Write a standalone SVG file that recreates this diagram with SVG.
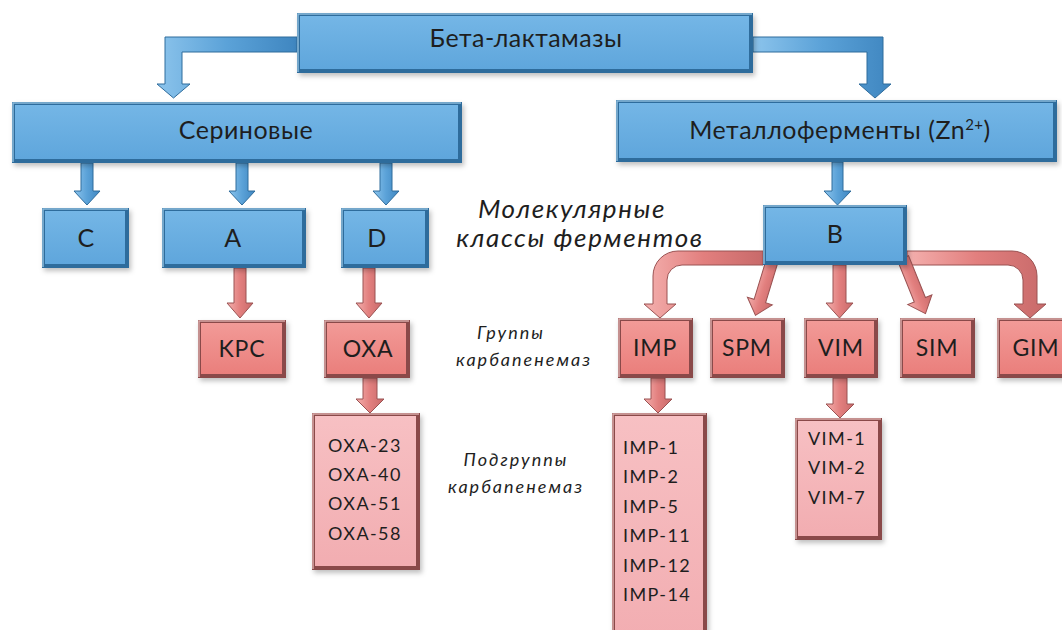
<svg xmlns="http://www.w3.org/2000/svg" width="1062" height="630" viewBox="0 0 1062 630">
<defs>
<linearGradient id="gBlue" x1="0" y1="0" x2="0" y2="1">
<stop offset="0" stop-color="#74b6e6"/><stop offset="1" stop-color="#5fa6dc"/>
</linearGradient>
<linearGradient id="gRed" x1="0" y1="0" x2="0" y2="1">
<stop offset="0" stop-color="#f29a97"/><stop offset="1" stop-color="#ea7f7c"/>
</linearGradient>
<linearGradient id="gPink" x1="0" y1="0" x2="0" y2="1">
<stop offset="0" stop-color="#f7c0c3"/><stop offset="1" stop-color="#f2adb1"/>
</linearGradient>
<linearGradient id="gArB" x1="0" y1="0" x2="1" y2="0">
<stop offset="0" stop-color="#8cc4ec"/><stop offset="0.5" stop-color="#5ba2d8"/><stop offset="1" stop-color="#3f86c0"/>
</linearGradient>
<linearGradient id="gArR" x1="0" y1="0" x2="1" y2="0">
<stop offset="0" stop-color="#f4b0ae"/><stop offset="0.5" stop-color="#e27f7e"/><stop offset="1" stop-color="#c86a6a"/>
</linearGradient>
<filter id="sh" x="-10%" y="-10%" width="130%" height="140%">
<feDropShadow dx="2" dy="3" stdDeviation="2.5" flood-color="#000" flood-opacity="0.25"/>
</filter>
</defs>
<style>
.bo{fill:#2f6c9c;filter:url(#sh)}
.bi{fill:url(#gBlue)}
.ro{fill:#8a4848;filter:url(#sh)}
.ri{fill:url(#gRed)}
.pi{fill:url(#gPink)}
.hl{fill:none;stroke-width:1.5;stroke-opacity:0.7}
.hb{stroke:#b5dbf5}
.hr{stroke:#fbd3d2}
.ab{fill:url(#gArB);stroke:#2f6c9c;stroke-width:1}
.ar{fill:url(#gArR);stroke:#9a5252;stroke-width:1}
text{font-family:Lato,"Open Sans","Liberation Sans",sans-serif;fill:#1e1e1e}
.t1{font-size:25px;letter-spacing:0.5px;text-anchor:middle}
.t2{font-size:23px;letter-spacing:0.8px;text-anchor:middle}
.t3{font-size:18px;letter-spacing:1.4px}
.it{font-style:italic;text-anchor:middle}
.ib{font-size:26px;letter-spacing:1.6px}
.is{font-size:18px;letter-spacing:2px}
</style>
<rect width="1062" height="630" fill="#ffffff"/>

<g id="connectors">
<path class="ab" d="M297,37 H165 V84 H157 L173.5,98 L190,84 H182 V52 H297 Z"/>
<path class="ab" d="M753,37 H883 V84 H891 L875,98 L859,84 H867 V52 H753 Z"/>
<path class="ab" d="M832,162 V191 H824 L837.5,205 L851,191 H843 V162 Z"/>
<path class="ab" d="M81,163 V191 H74 L87,205 L100,191 H93 V163 Z"/>
<path class="ab" d="M236,163 V191 H229 L242,205 L255,191 H248 V163 Z"/>
<path class="ab" d="M380,163 V191 H373 L386,205 L399,191 H392 V163 Z"/>
<path class="ar" d="M234,268 V303 H227 L240,318 L253,303 H246 V268 Z"/>
<path class="ar" d="M363,268 V303 H356 L369,318 L382,303 H375 V268 Z"/>
<path class="ar" d="M363,378 V399 H356 L370,413 L384,399 H377 V378 Z"/>
<path class="ar" d="M651,378 V399 H644 L658,413 L672,399 H665 V378 Z"/>
<path class="ar" d="M833,378 V404 H826 L840,418 L854,404 H847 V378 Z"/>
<path class="ar" d="M763,251 H678 A25,25 0 0 0 653,276 V304 H644 L660,318 L676,304 H667 V280 A15,15 0 0 1 682,265 H763 Z"/>
<path class="ar" d="M907,251 H1012 A25,25 0 0 1 1037,276 V304 H1046 L1030,318 L1014,304 H1023 V280 A15,15 0 0 0 1008,265 H907 Z"/>
<path class="ar" transform="rotate(17 773 258)" d="M767,258 V303 H760 L773,318 L786,303 H779 V258 Z"/>
<path class="ar" transform="rotate(-22 903 258)" d="M897,258 V303 H890 L903,318 L916,303 H909 V258 Z"/>
<path class="ar" d="M833,265 V303 H826 L839.5,318 L853,303 H846 V265 Z"/>
</g>

<g id="n-beta">
<rect class="bo" x="297" y="13" width="456" height="60"/>
<rect class="bi" x="300" y="16" width="449" height="53"/>
<polyline class="hl hb" points="298,72 298,14 752,14"/>
<text class="t1" x="526" y="47">Бета-лактамазы</text>
</g>
<g id="n-serine">
<rect class="bo" x="12" y="102" width="450" height="61"/>
<rect class="bi" x="15" y="105" width="443" height="54"/>
<polyline class="hl hb" points="13,162 13,103 461,103"/>
<text class="t1" x="246" y="139">Сериновые</text>
</g>
<g id="n-metal">
<rect class="bo" x="616" y="100" width="441" height="62"/>
<rect class="bi" x="619" y="103" width="434" height="55"/>
<polyline class="hl hb" points="617,161 617,101 1056,101"/>
<text class="t1" x="840" y="139">Металлоферменты (Zn<tspan font-size="15" dy="-9">2+</tspan><tspan dy="9">)</tspan></text>
</g>
<g id="n-c">
<rect class="bo" x="42" y="208" width="87" height="60"/>
<rect class="bi" x="45" y="211" width="80" height="53"/>
<polyline class="hl hb" points="43,267 43,209 128,209"/>
<text class="t1" x="86" y="247">C</text>
</g>
<g id="n-a">
<rect class="bo" x="162" y="208" width="144" height="60"/>
<rect class="bi" x="165" y="211" width="137" height="53"/>
<polyline class="hl hb" points="163,267 163,209 305,209"/>
<text class="t1" x="233" y="247">A</text>
</g>
<g id="n-d">
<rect class="bo" x="341" y="208" width="88" height="60"/>
<rect class="bi" x="344" y="211" width="81" height="53"/>
<polyline class="hl hb" points="342,267 342,209 428,209"/>
<text class="t1" x="377" y="247">D</text>
</g>
<g id="n-b">
<rect class="bo" x="763" y="205" width="144" height="60"/>
<rect class="bi" x="766" y="208" width="137" height="53"/>
<polyline class="hl hb" points="764,264 764,206 906,206"/>
<text class="t1" x="835" y="243">B</text>
</g>

<g id="lbl-classes">
<text class="it ib" x="572" y="218">Молекулярные</text>
<text class="it ib" x="580" y="247">классы ферментов</text>
</g>
<g id="lbl-groups">
<text class="it is" x="511" y="339">Группы</text>
<text class="it is" x="524" y="366">карбапенемаз</text>
</g>
<g id="lbl-subgroups">
<text class="it is" x="516" y="466">Подгруппы</text>
<text class="it is" x="516" y="493">карбапенемаз</text>
</g>

<g id="n-kpc">
<rect class="ro" x="198" y="320" width="88" height="58"/>
<rect class="ri" x="201" y="323" width="81" height="51"/>
<polyline class="hl hr" points="199,377 199,321 285,321"/>
<text class="t2" x="242" y="357">KPC</text>
</g>
<g id="n-oxa">
<rect class="ro" x="324" y="320" width="86" height="58"/>
<rect class="ri" x="327" y="323" width="79" height="51"/>
<polyline class="hl hr" points="325,377 325,321 409,321"/>
<text class="t2" x="368" y="357">OXA</text>
</g>
<g id="n-imp">
<rect class="ro" x="618" y="318" width="75" height="60"/>
<rect class="ri" x="621" y="321" width="68" height="53"/>
<polyline class="hl hr" points="619,377 619,319 692,319"/>
<text class="t2" x="655" y="356">IMP</text>
</g>
<g id="n-spm">
<rect class="ro" x="710" y="318" width="75" height="60"/>
<rect class="ri" x="713" y="321" width="68" height="53"/>
<polyline class="hl hr" points="711,377 711,319 784,319"/>
<text class="t2" x="747" y="356">SPM</text>
</g>
<g id="n-vim">
<rect class="ro" x="804" y="318" width="74" height="60"/>
<rect class="ri" x="807" y="321" width="67" height="53"/>
<polyline class="hl hr" points="805,377 805,319 877,319"/>
<text class="t2" x="841" y="356">VIM</text>
</g>
<g id="n-sim">
<rect class="ro" x="900" y="318" width="75" height="60"/>
<rect class="ri" x="903" y="321" width="68" height="53"/>
<polyline class="hl hr" points="901,377 901,319 974,319"/>
<text class="t2" x="937" y="356">SIM</text>
</g>
<g id="n-gim">
<rect class="ro" x="997" y="318" width="75" height="60"/>
<rect class="ri" x="1000" y="321" width="68" height="53"/>
<polyline class="hl hr" points="998,377 998,319 1062,319"/>
<text class="t2" x="1036" y="356">GIM</text>
</g>

<g id="n-oxa-list">
<rect class="ro" x="312" y="413" width="108" height="157"/>
<rect class="pi" x="315" y="416" width="101" height="150"/>
<polyline class="hl hr" points="313,569 313,414 419,414"/>
<text class="t3" x="328" y="452">OXA-23</text>
<text class="t3" x="328" y="481">OXA-40</text>
<text class="t3" x="328" y="510">OXA-51</text>
<text class="t3" x="328" y="540">OXA-58</text>
</g>
<g id="n-imp-list">
<rect class="ro" x="612" y="413" width="95" height="230"/>
<rect class="pi" x="615" y="416" width="88" height="230"/>
<polyline class="hl hr" points="613,630 613,414 706,414"/>
<text class="t3" x="623" y="454">IMP-1</text>
<text class="t3" x="623" y="483">IMP-2</text>
<text class="t3" x="623" y="513">IMP-5</text>
<text class="t3" x="623" y="542">IMP-11</text>
<text class="t3" x="623" y="572">IMP-12</text>
<text class="t3" x="623" y="601">IMP-14</text>
</g>
<g id="n-vim-list">
<rect class="ro" x="795" y="418" width="87" height="122"/>
<rect class="pi" x="798" y="421" width="80" height="115"/>
<polyline class="hl hr" points="796,539 796,419 881,419"/>
<text class="t3" x="808" y="445">VIM-1</text>
<text class="t3" x="808" y="474">VIM-2</text>
<text class="t3" x="808" y="504">VIM-7</text>
</g>
</svg>
